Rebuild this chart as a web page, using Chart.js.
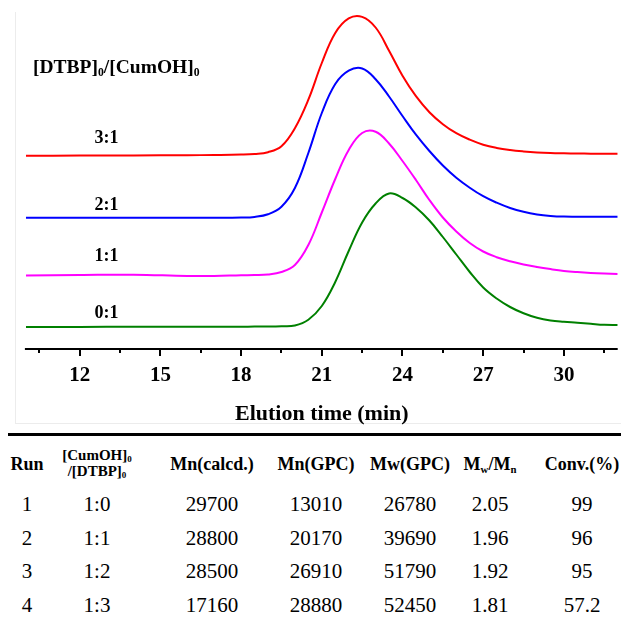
<!DOCTYPE html>
<html><head><meta charset="utf-8">
<script src="https://cdn.jsdelivr.net/npm/chart.js@4.4.1/dist/chart.umd.min.js"></script>
<style>
html,body{margin:0;padding:0;background:#fff;}
body{width:621px;height:625px;overflow:hidden;position:relative;font-family:"Liberation Serif","Times New Roman",serif;color:#000;}
#wrap{position:absolute;left:0;top:0;width:621px;height:430px;}
.c{position:absolute;white-space:nowrap;transform:translate(-50%,-50%);line-height:1;font-family:"Liberation Serif",serif;}
.h{font-weight:bold;font-size:18px;}
.d{font-size:21px;}
sub{font-size:60%;vertical-align:-0.25em;line-height:0;}
#ratioTitle{position:absolute;left:33px;top:67px;transform:translateY(-50%);font-weight:bold;font-size:19.5px;white-space:nowrap;line-height:1;}
#rule{position:absolute;left:8px;top:433px;width:613px;height:3px;background:#000;}
#frameL{position:absolute;left:15px;top:12px;width:1px;height:412px;background:#ececec;}
#frameB{position:absolute;left:15px;top:423px;width:606px;height:1px;background:#ececec;}
</style></head>
<body>
<div id="frameL"></div><div id="frameB"></div>
<div id="wrap"><canvas id="c" width="621" height="430"></canvas></div>
<div id="ratioTitle">[DTBP]<sub>0</sub>/[CumOH]<sub>0</sub></div>
<div id="rule"></div>
<div id="table"></div>
<script>
// ---- GPC traces (elution time in min, detector signal in a.u. above each trace's baseline)
const times = [10,12,14,16,17,18,18.5,19,19.5,20,20.5,21,21.5,22,22.5,23,23.5,24,24.5,25,25.5,26,26.5,27,27.5,28,28.5,29,29.5,30,30.5,31,31.5,32];
const sig31 = [0,0.1,0.3,0.5,0.7,1.1,1.7,3.5,9.5,27.5,56,92.7,122.7,137.3,138.8,128.2,105,80,59.5,43.5,31.5,22.5,16,11,7.8,5.7,4.3,3.3,2.7,2.4,2.2,2,1.9,1.9];
const sig21 = [0,0,0,0,0,0.2,0.8,3.4,11,29.7,64.7,104.7,133.7,147,149.2,138.5,121.2,101.7,83,66.7,52.2,40,30,21.5,15,9.7,5.9,3.3,1.8,1.1,1,1,1,1];
const sig11 = [0,0.5,0.8,-0.5,-0.5,0.2,0.4,1,3.5,10.5,30.5,63,96.5,125.5,142.5,143.8,132,114.5,95.5,75.5,58,44,32.5,24,18.3,14.2,11,8.5,6.4,4.6,3.4,2.5,1.9,1.5];
const sig01 = [0,0,0.3,0.2,0.3,0.3,0.4,0.4,0.7,1.5,7.3,21,45,76,104.5,123.5,133.5,129,119.5,106.5,90,72.5,55,39.5,28.5,20,13.7,9.2,6.5,5.2,4.3,3.2,2.2,2];
// vertical offsets of the stacked traces (a.u.)
const offsets = [193.3,131.3,73.5,22];
const traceLabels = ['3:1','2:1','1:1','0:1'];
const traceColors = ['#ff0000','#0000ff','#ff00ff','#008000'];
const majorTicks = [12,15,18,21,24,27,30];
const minorTicks = [10.5,13.5,16.5,19.5,22.5,25.5,28.5,31.5];

// ---- table
const headers = ['Run','[CumOH]<sub>0</sub>|/[DTBP]<sub>0</sub>','Mn(calcd.)','Mn(GPC)','Mw(GPC)','M<sub>w</sub>/M<sub>n</sub>','Conv.(%)'];
const runs = ['1','2','3','4'];
const ratios = ['1:0','1:1','1:2','1:3'];
const mnCalcd = [29700,28800,28500,17160];
const mnGPC = [13010,20170,26910,28880];
const mwGPC = [26780,39690,51790,52450];
const pdi = ['2.05','1.96','1.92','1.81'];
const conv = ['99','96','95','57.2'];

const sigs = [sig31,sig21,sig11,sig01];
const datasets = sigs.map((s,i)=>({
  label: traceLabels[i],
  data: times.map((t,k)=>({x:t, y:s[k]+offsets[i]})),
  borderColor: traceColors[i],
  borderWidth: 2,
  pointRadius: 0,
  fill: false,
  tension: 0.4
}));

const labelPos = [{x:13,y:211},{x:13,y:144},{x:13,y:93},{x:13,y:36}];

const axisPlugin = {
  id:'axisPlugin',
  afterDraw(chart){
    const {ctx, chartArea:a, scales:{x,y}} = chart;
    ctx.save();
    ctx.strokeStyle='#000'; ctx.lineWidth=2;
    ctx.beginPath(); ctx.moveTo(a.left-1,a.bottom); ctx.lineTo(a.right,a.bottom); ctx.stroke();
    ctx.beginPath();
    majorTicks.forEach(v=>{const p=Math.round(x.getPixelForValue(v)); ctx.moveTo(p,a.bottom); ctx.lineTo(p,a.bottom+7);});
    minorTicks.forEach(v=>{const p=Math.round(x.getPixelForValue(v)); ctx.moveTo(p,a.bottom); ctx.lineTo(p,a.bottom+4);});
    ctx.stroke();
    ctx.fillStyle='#000';
    ctx.font='bold 18px "Liberation Serif"';
    ctx.textAlign='center'; ctx.textBaseline='middle';
    traceLabels.forEach((t,i)=>{ctx.fillText(t, x.getPixelForValue(labelPos[i].x), y.getPixelForValue(labelPos[i].y));});
    ctx.restore();
  }
};

new Chart(document.getElementById('c'), {
  type:'line',
  data:{datasets},
  plugins:[axisPlugin],
  options:{
    responsive:false, animation:false,
    layout:{padding:{left:25.9,right:3.3,top:5,bottom:2.8}},
    plugins:{legend:{display:false},tooltip:{enabled:false}},
    scales:{
      x:{type:'linear',min:10,max:32,
        afterBuildTicks:(s)=>{s.ticks = majorTicks.map(v=>({value:v}));},
        grid:{display:false,drawTicks:true,tickLength:7},
        border:{display:false},
        ticks:{color:'#000',padding:7,maxRotation:0,autoSkip:false,font:{family:'Liberation Serif',size:21,weight:'bold'}},
        title:{display:true,text:'Elution time (min)',color:'#000',padding:{top:5.6,bottom:0},font:{family:'Liberation Serif',size:22,weight:'bold'}}
      },
      y:{display:false,min:0,max:344}
    }
  }
});

// ---- build table
(function(){
  const tbl=document.getElementById('table');
  const colX=[27,97,212,316,410,490,582];
  function cell(html,x,y,cls,fs){const d=document.createElement('div');d.className='c '+cls;d.style.left=x+'px';d.style.top=y+'px';if(fs)d.style.fontSize=fs+'px';d.innerHTML=html;tbl.appendChild(d);}
  headers.forEach((h,i)=>{
    if(h.indexOf('|')>=0){
      const parts=h.split('|');
      cell(parts[0],colX[i],455,'h',15);
      cell(parts[1],colX[i],471,'h',15);
    } else cell(h,colX[i],464,'h');
  });
  const rowY=[504,537.5,571,604.5];
  runs.forEach((r,k)=>{
    const vals=[r,ratios[k],mnCalcd[k],mnGPC[k],mwGPC[k],pdi[k],conv[k]];
    vals.forEach((v,i)=>cell(String(v),colX[i],rowY[k],'d'));
  });
})();
</script>
</body></html>
